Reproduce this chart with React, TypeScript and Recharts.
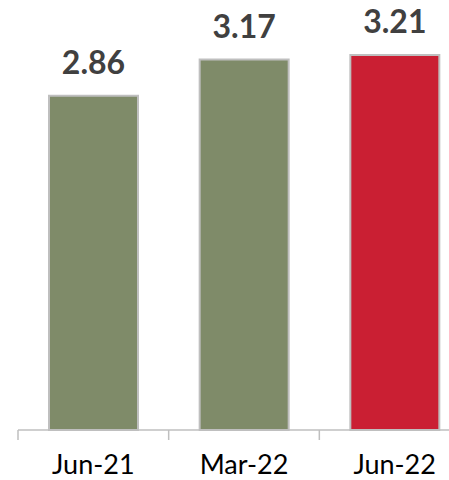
import React from 'react';
import { BarChart, Bar, XAxis, YAxis, Cell, LabelList } from 'recharts';

const periods = ['Jun-21', 'Mar-22', 'Jun-22'];
const values = [2.86, 3.17, 3.21];
const barColors = ['#7f8b69', '#7f8b69', '#ca1f33'];

const chartData = periods.map((period, i) => ({ period, value: values[i] }));

const PLOT_LEFT = 18;
const CHART_WIDTH = 470;
const BAND = (CHART_WIDTH - PLOT_LEFT) / periods.length;

const PeriodTick = (props: any) => {
  const { x, y, payload } = props;
  const half = payload && payload.offset ? payload.offset : BAND / 2;
  return (
    <g>
      <line x1={x - half} y1={y} x2={x - half} y2={y + 10} stroke="#bfbfbf" strokeWidth={1.5} />
      <text
        x={x}
        y={y + 44}
        textAnchor="middle"
        fill="#000000"
        fontSize={27}
        fontFamily="Lato, sans-serif"
      >
        {payload.value}
      </text>
    </g>
  );
};

const App: React.FC = () => {
  return (
    <div style={{ position: 'absolute', left: 0, top: 0, width: 449, height: 480, overflow: 'hidden', background: '#ffffff' }}>
      <BarChart
        width={CHART_WIDTH}
        height={480}
        data={chartData}
        margin={{ top: 21, right: 0, left: PLOT_LEFT, bottom: 20 }}
      >
        <XAxis
          dataKey="period"
          height={30}
          tickLine={false}
          tickSize={0}
          tickMargin={0}
          axisLine={{ stroke: '#bfbfbf', strokeWidth: 1.5 }}
          tick={<PeriodTick />}
          interval={0}
        />
        <YAxis hide domain={[0, 3.5]} />
        <Bar dataKey="value" barSize={89} stroke="#bfbfbf" strokeWidth={2} isAnimationActive={false}>
          {chartData.map((d, i) => (
            <Cell key={d.period} fill={barColors[i]} />
          ))}
          <LabelList
            dataKey="value"
            position="top"
            offset={22}
            fill="#404040"
            fontSize={32}
            fontWeight="bold"
            fontFamily="Lato, sans-serif"
            formatter={(v: any) => Number(v).toFixed(2)}
          />
        </Bar>
      </BarChart>
    </div>
  );
};

export default App;
